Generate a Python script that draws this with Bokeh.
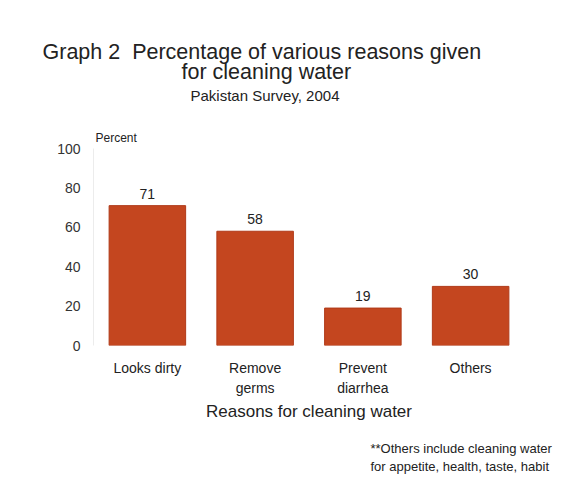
from bokeh.plotting import figure
from bokeh.models import ColumnDataSource, LabelSet, FixedTicker, Title
from bokeh.core.properties import value
from bokeh.embed import file_html
from bokeh.resources import INLINE

categories = ["Looks dirty", "Remove\ngerms", "Prevent\ndiarrhea", "Others"]
values = [71, 58, 19, 30]
y_ticks = [0, 20, 40, 60, 80, 100]

W, H = 564, 485
FONT = "Liberation Sans"
BAR = "#C4461F"
INK = "#222222"

src = ColumnDataSource(dict(cat=categories, val=values, lbl=[str(v) for v in values]))

p = figure(x_range=categories, y_range=(0, 100), width=W, height=H,
           output_backend="svg", toolbar_location=None,
           min_border_left=93, min_border_right=W - 524, min_border_top=148,
           min_border_bottom=H - 345)
p.outline_line_color = None
p.background_fill_color = "white"
p.border_fill_color = "white"
p.xgrid.grid_line_color = None
p.ygrid.grid_line_color = None

p.vbar(x="cat", top="val", width=0.71, source=src, fill_color=BAR,
       line_color="#B03A18", line_width=1)

p.add_layout(LabelSet(x="cat", y="val", text="lbl", source=src, y_offset=7,
                      text_align="center", text_baseline="bottom",
                      text_font=value(FONT), text_font_size="14px", text_color=INK))

p.yaxis.ticker = FixedTicker(ticks=y_ticks)
p.yaxis.axis_line_color = "#ececec"
p.yaxis.major_tick_line_color = None
p.yaxis.major_tick_out = 0
p.yaxis.minor_tick_line_color = None
p.yaxis.major_label_standoff = 13
p.yaxis.major_label_text_font = FONT
p.yaxis.major_label_text_font_size = "14px"
p.yaxis.major_label_text_color = "#333333"

p.xaxis.axis_line_color = None
p.xaxis.major_tick_line_color = None
p.xaxis.major_tick_out = 0
p.xaxis.minor_tick_line_color = None
p.xaxis.major_label_standoff = 14
p.xaxis.major_label_text_font = FONT
p.xaxis.major_label_text_font_size = "14px"
p.xaxis.major_label_text_color = INK
p.xaxis.major_label_text_line_height = 1.25
p.xaxis.axis_label = "Reasons for cleaning water"
p.xaxis.axis_label_text_font = FONT
p.xaxis.axis_label_text_font_style = "normal"
p.xaxis.axis_label_text_font_size = "17px"
p.xaxis.axis_label_text_color = INK
p.xaxis.axis_label_standoff = 3

def title(text, place, size, offset, standoff=0):
    p.add_layout(Title(text=text, align="left", offset=offset, standoff=standoff,
                       text_font=FONT, text_font_size=size, text_font_style="normal",
                       text_color=INK), place)

# above: added from the frame outward
title("Percent", "above", "12px", 2, 7)
title(" ", "above", "1px", 0, 18)
title("Pakistan Survey, 2004", "above", "15px", 97, 2)
title("for cleaning water", "above", "21.5px", 88, 0)
title("Graph\u00a02\u00a0 Percentage of various reasons given", "above", "21.5px", -51, -12)
# below: footnote (spacer first)
title(" ", "below", "1px", 0, 12)
title("**Others include cleaning water", "below", "13px", 277, 0)
title("for appetite, health, taste, habit", "below", "13px", 277, 2)

open("out.html", "w").write(file_html(p, INLINE))
